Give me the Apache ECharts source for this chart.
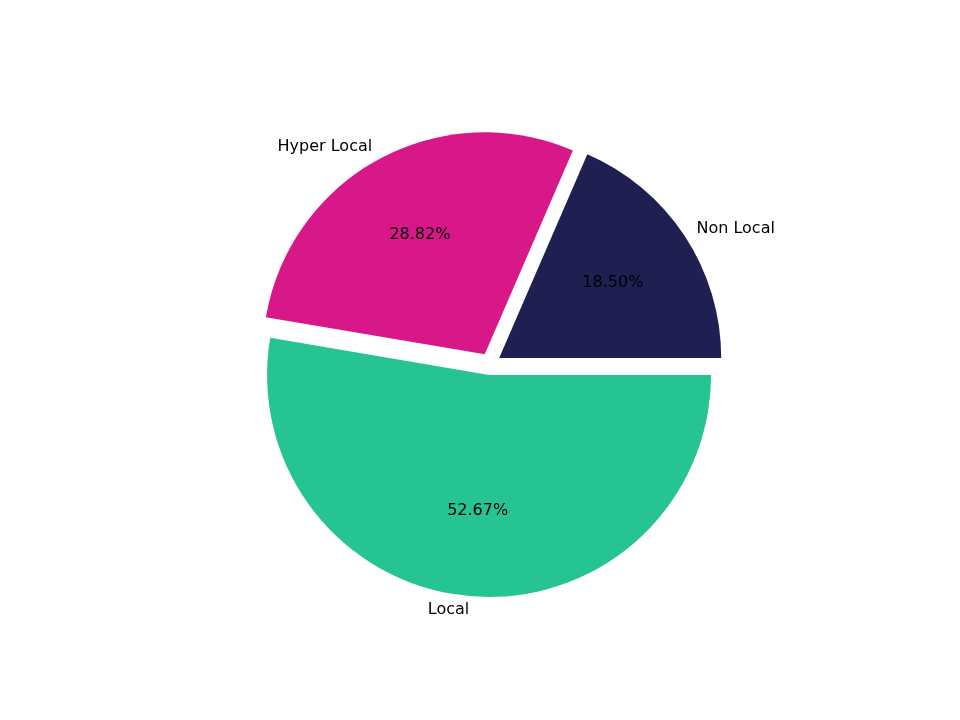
<!DOCTYPE html>
<html><head><meta charset="utf-8">
<script src="https://cdn.jsdelivr.net/npm/echarts@6/dist/echarts.min.js"></script>
<style>html,body{margin:0;background:#fff}#c{width:960px;height:720px}</style>
</head><body><div id="c"></div>
<script>
const categories = ['Non Local', 'Hyper Local', 'Local'];
const values = [18.50, 28.82, 52.67];
const colors = ['#1f1f52', '#d81889', '#25c492'];

const chart = echarts.init(document.getElementById('c'));
const base = {
  type: 'pie', center: [490, 364], startAngle: 0, clockwise: false,
  selectedMode: 'multiple', selectedOffset: 11, animation: false,
  emphasis: { disabled: true }, silent: true, avoidLabelOverlap: false,
  labelLine: { show: false }
};
chart.setOption({
  series: [
    Object.assign({}, base, {
      radius: 222,
      data: categories.map((n, i) => ({ name: n, value: values[i], selected: true, itemStyle: { color: colors[i] } })),
      label: { position: 'outside', distanceToLabelLine: 0, color: '#000', fontSize: 16, fontFamily: 'DejaVu Sans', formatter: '{b}' },
      labelLine: { show: false, length: 14, length2: 0 }
    }),
    Object.assign({}, base, {
      radius: 266,
      data: categories.map((n, i) => ({ name: n, value: values[i], selected: true, itemStyle: { color: 'rgba(0,0,0,0)' } })),
      label: { position: 'inside', color: '#000', fontSize: 16, fontFamily: 'DejaVu Sans',
        formatter: p => p.value.toFixed(2) + '%' }
    })
  ]
});
</script></body></html>
